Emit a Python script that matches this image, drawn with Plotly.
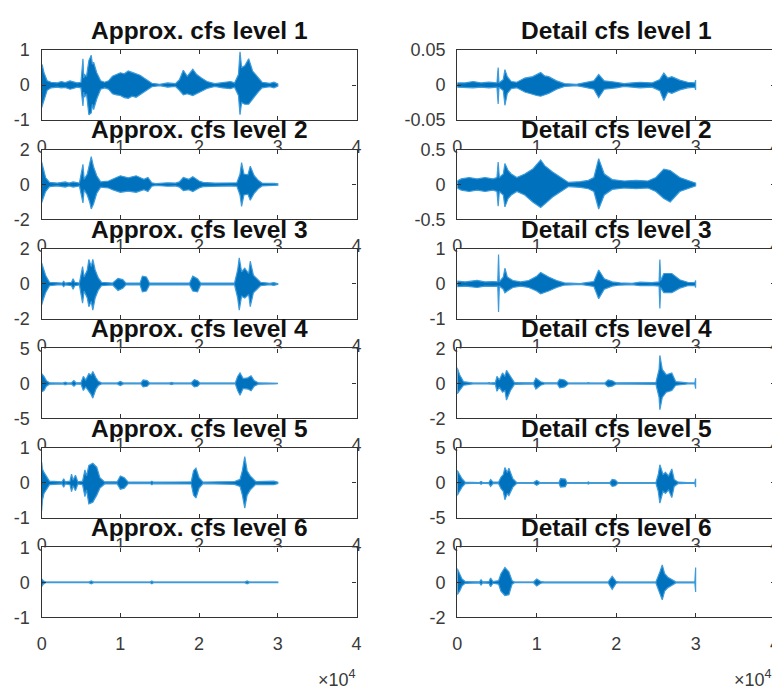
import plotly.graph_objects as go

W, H = 780, 700

# ---- data: envelope of each coefficient signal ----
# tuples: (sample position in units of 1e4, upper envelope, lower envelope)
A1 = [(0.000, 0.60, -0.65), (0.010, 0.55, -0.60), (0.030, 0.35, -0.45), (0.070, 0.12, -0.15),
      (0.120, 0.08, -0.08), (0.200, 0.06, -0.06), (0.250, 0.10, -0.08), (0.300, 0.07, -0.07),
      (0.360, 0.12, -0.12), (0.400, 0.10, -0.10), (0.450, 0.06, -0.06), (0.500, 0.08, -0.08),
      (0.525, 0.75, -0.60), (0.535, 0.20, -0.20), (0.545, 0.30, -0.35), (0.570, 0.25, -0.25),
      (0.600, 0.70, -0.85), (0.630, 0.85, -0.80), (0.645, 0.60, -0.55), (0.660, 0.65, -0.70),
      (0.700, 0.35, -0.40), (0.750, 0.12, -0.12), (0.800, 0.08, -0.08), (0.850, 0.12, -0.12),
      (0.900, 0.25, -0.25), (0.950, 0.30, -0.28), (1.000, 0.35, -0.30), (1.050, 0.32, -0.36),
      (1.100, 0.40, -0.38), (1.150, 0.36, -0.32), (1.200, 0.32, -0.35), (1.250, 0.28, -0.26),
      (1.300, 0.20, -0.20), (1.350, 0.12, -0.12), (1.400, 0.05, -0.05), (1.500, 0.02, -0.02),
      (1.600, 0.06, -0.06), (1.700, 0.04, -0.04), (1.750, 0.15, -0.15), (1.800, 0.42, -0.28),
      (1.850, 0.25, -0.25), (1.920, 0.45, -0.30), (1.970, 0.30, -0.25), (2.030, 0.20, -0.18),
      (2.100, 0.10, -0.10), (2.200, 0.04, -0.04), (2.300, 0.08, -0.08), (2.400, 0.10, -0.10),
      (2.450, 0.06, -0.06), (2.500, 0.30, -0.30), (2.520, 0.95, -0.85), (2.540, 0.50, -0.50),
      (2.580, 0.55, -0.55), (2.630, 0.75, -0.55), (2.680, 0.40, -0.40), (2.750, 0.20, -0.20),
      (2.800, 0.08, -0.08), (2.900, 0.05, -0.05), (2.950, 0.08, -0.08), (3.000, 0.03, -0.03)]

A2 = [(0.000, 1.30, -1.05), (0.020, 0.90, -0.80), (0.050, 0.40, -0.40), (0.100, 0.12, -0.12),
      (0.200, 0.08, -0.08), (0.300, 0.15, -0.15), (0.350, 0.08, -0.08), (0.400, 0.15, -0.15),
      (0.480, 0.08, -0.08), (0.525, 1.15, -1.05), (0.540, 0.30, -0.30), (0.580, 0.60, -0.60),
      (0.610, 1.20, -1.00), (0.630, 1.60, -1.40), (0.660, 1.00, -1.10), (0.700, 0.50, -0.50),
      (0.750, 0.15, -0.15), (0.850, 0.20, -0.20), (0.900, 0.30, -0.30), (1.000, 0.50, -0.45),
      (1.100, 0.38, -0.38), (1.200, 0.50, -0.45), (1.300, 0.30, -0.30), (1.350, 0.40, -0.40),
      (1.400, 0.10, -0.10), (1.450, 0.05, -0.05), (1.600, 0.10, -0.10), (1.700, 0.08, -0.08),
      (1.750, 0.15, -0.15), (1.800, 0.40, -0.35), (1.870, 0.30, -0.30), (1.920, 0.45, -0.40),
      (2.000, 0.20, -0.20), (2.050, 0.12, -0.12), (2.200, 0.08, -0.08), (2.300, 0.10, -0.10),
      (2.400, 0.08, -0.08), (2.480, 0.10, -0.10), (2.520, 0.60, -0.60), (2.540, 1.25, -1.25),
      (2.570, 0.60, -0.60), (2.620, 0.55, -0.55), (2.650, 1.05, -0.90), (2.700, 0.50, -0.50),
      (2.750, 0.25, -0.25), (2.800, 0.08, -0.08), (2.950, 0.06, -0.06), (3.000, 0.04, -0.04)]

A3 = [(0.000, 1.20, -1.20), (0.020, 0.90, -0.90), (0.050, 0.50, -0.50), (0.100, 0.10, -0.10),
      (0.200, 0.05, -0.05), (0.260, 0.05, -0.05), (0.280, 0.15, -0.15), (0.300, 0.05, -0.05),
      (0.380, 0.10, -0.10), (0.400, 0.30, -0.30), (0.420, 0.10, -0.10), (0.480, 0.05, -0.05),
      (0.520, 1.00, -1.10), (0.540, 0.40, -0.40), (0.580, 0.80, -0.80), (0.600, 1.40, -1.30),
      (0.630, 1.00, -1.00), (0.650, 1.40, -1.50), (0.680, 0.80, -0.80), (0.720, 0.35, -0.35),
      (0.760, 0.10, -0.10), (0.900, 0.05, -0.05), (0.970, 0.32, -0.37), (1.030, 0.25, -0.25),
      (1.070, 0.05, -0.05), (1.250, 0.05, -0.05), (1.280, 0.45, -0.45), (1.330, 0.40, -0.40),
      (1.370, 0.05, -0.05), (1.600, 0.04, -0.04), (1.650, 0.08, -0.08), (1.700, 0.04, -0.04),
      (1.880, 0.05, -0.05), (1.920, 0.45, -0.40), (1.980, 0.30, -0.45), (2.020, 0.05, -0.05),
      (2.450, 0.05, -0.05), (2.490, 0.80, -0.80), (2.510, 1.50, -1.50), (2.540, 0.70, -0.70),
      (2.580, 0.90, -0.80), (2.630, 0.60, -0.60), (2.650, 1.30, -1.30), (2.690, 0.50, -0.50),
      (2.730, 0.30, -0.30), (2.780, 0.10, -0.10), (2.900, 0.04, -0.04), (2.950, 0.08, -0.08),
      (3.000, 0.02, -0.02)]

A4 = [(0.000, 1.40, -1.20), (0.030, 1.00, -1.00), (0.060, 0.40, -0.40), (0.100, 0.10, -0.10),
      (0.270, 0.06, -0.06), (0.300, 0.20, -0.20), (0.330, 0.06, -0.06), (0.380, 0.10, -0.10),
      (0.410, 0.40, -0.40), (0.440, 0.08, -0.08), (0.500, 0.10, -0.10), (0.530, 1.00, -1.00),
      (0.560, 0.50, -0.50), (0.600, 1.40, -1.20), (0.630, 1.20, -1.60), (0.650, 1.70, -2.10),
      (0.690, 0.80, -0.80), (0.720, 0.30, -0.30), (0.760, 0.08, -0.08), (0.960, 0.06, -0.06),
      (1.000, 0.30, -0.30), (1.040, 0.06, -0.06), (1.260, 0.06, -0.06), (1.290, 0.50, -0.50),
      (1.340, 0.40, -0.40), (1.370, 0.06, -0.06), (1.620, 0.05, -0.05), (1.650, 0.15, -0.15),
      (1.680, 0.05, -0.05), (1.900, 0.06, -0.06), (1.940, 0.55, -0.50), (1.980, 0.40, -0.40),
      (2.010, 0.06, -0.06), (2.460, 0.06, -0.06), (2.490, 1.00, -1.00), (2.520, 1.50, -1.70),
      (2.560, 0.70, -0.70), (2.620, 0.80, -0.80), (2.660, 1.10, -1.05), (2.700, 0.40, -0.40),
      (2.750, 0.10, -0.10), (2.950, 0.05, -0.05), (3.000, 0.03, -0.03)]

A5 = [(0.000, 0.60, -0.80), (0.010, 0.40, -0.50), (0.030, 0.30, -0.30), (0.060, 0.20, -0.20),
      (0.100, 0.05, -0.05), (0.260, 0.03, -0.03), (0.280, 0.12, -0.12), (0.300, 0.03, -0.03),
      (0.360, 0.05, -0.05), (0.380, 0.25, -0.25), (0.400, 0.08, -0.08), (0.430, 0.22, -0.22),
      (0.460, 0.03, -0.03), (0.520, 0.05, -0.05), (0.550, 0.37, -0.39), (0.570, 0.20, -0.20),
      (0.600, 0.50, -0.60), (0.650, 0.56, -0.55), (0.700, 0.45, -0.35), (0.740, 0.15, -0.15),
      (0.800, 0.03, -0.03), (0.960, 0.03, -0.03), (1.000, 0.20, -0.18), (1.050, 0.15, -0.15),
      (1.100, 0.02, -0.02), (1.380, 0.02, -0.02), (1.400, 0.05, -0.05), (1.420, 0.02, -0.02),
      (1.680, 0.02, -0.02), (1.700, 0.03, -0.03), (1.900, 0.03, -0.03), (1.930, 0.35, -0.35),
      (1.960, 0.42, -0.43), (2.000, 0.15, -0.15), (2.050, 0.02, -0.02), (2.450, 0.04, -0.04),
      (2.520, 0.10, -0.10), (2.550, 0.35, -0.35), (2.580, 0.75, -0.72), (2.610, 0.35, -0.35),
      (2.650, 0.20, -0.20), (2.720, 0.04, -0.04), (2.950, 0.05, -0.05), (3.000, 0.02, -0.02)]

A6 = [(0.000, 0.10, -0.12), (0.020, 0.05, -0.05), (0.050, 0.01, -0.01), (0.600, 0.01, -0.01),
      (0.630, 0.04, -0.04), (0.660, 0.01, -0.01), (1.380, 0.01, -0.01), (1.400, 0.04, -0.04),
      (1.420, 0.01, -0.01), (2.580, 0.01, -0.01), (2.610, 0.04, -0.04), (2.640, 0.01, -0.01),
      (3.000, 0.01, -0.01)]

D1 = [(0.000, 0.003, -0.003), (0.100, 0.003, -0.003), (0.200, 0.005, -0.004), (0.300, 0.003, -0.003),
      (0.400, 0.004, -0.004), (0.500, 0.003, -0.003), (0.515, 0.025, -0.027), (0.525, 0.003, -0.003),
      (0.580, 0.008, -0.008), (0.600, 0.022, -0.029), (0.630, 0.012, -0.012), (0.680, 0.005, -0.005),
      (0.750, 0.004, -0.004), (0.850, 0.010, -0.010), (0.950, 0.012, -0.013), (1.000, 0.015, -0.015),
      (1.050, 0.018, -0.016), (1.100, 0.013, -0.014), (1.150, 0.012, -0.012), (1.250, 0.006, -0.006),
      (1.350, 0.002, -0.002), (1.500, 0.001, -0.001), (1.600, 0.003, -0.003), (1.720, 0.006, -0.006),
      (1.780, 0.015, -0.018), (1.850, 0.006, -0.006), (2.000, 0.004, -0.004), (2.100, 0.002, -0.002),
      (2.200, 0.003, -0.003), (2.300, 0.004, -0.004), (2.450, 0.003, -0.003), (2.550, 0.008, -0.008),
      (2.600, 0.017, -0.022), (2.650, 0.010, -0.010), (2.700, 0.012, -0.012), (2.800, 0.007, -0.007),
      (2.900, 0.004, -0.004), (2.990, 0.003, -0.003), (3.000, 0.007, -0.007)]

D2 = [(0.000, 0.05, -0.05), (0.050, 0.08, -0.08), (0.150, 0.10, -0.10), (0.250, 0.08, -0.08),
      (0.350, 0.10, -0.10), (0.450, 0.08, -0.08), (0.500, 0.10, -0.10), (0.515, 0.32, -0.31),
      (0.530, 0.10, -0.10), (0.580, 0.15, -0.15), (0.600, 0.30, -0.32), (0.640, 0.20, -0.20),
      (0.680, 0.15, -0.15), (0.750, 0.10, -0.10), (0.850, 0.15, -0.15), (0.950, 0.22, -0.25),
      (1.050, 0.35, -0.33), (1.100, 0.27, -0.28), (1.200, 0.18, -0.18), (1.300, 0.10, -0.10),
      (1.400, 0.03, -0.03), (1.550, 0.04, -0.04), (1.650, 0.06, -0.06), (1.720, 0.10, -0.10),
      (1.780, 0.37, -0.35), (1.850, 0.15, -0.15), (1.950, 0.07, -0.07), (2.100, 0.05, -0.05),
      (2.250, 0.06, -0.06), (2.400, 0.05, -0.05), (2.500, 0.10, -0.10), (2.600, 0.22, -0.20),
      (2.680, 0.20, -0.25), (2.800, 0.10, -0.10), (2.950, 0.04, -0.04), (3.000, 0.02, -0.02)]

D3 = [(0.000, 0.08, -0.08), (0.100, 0.06, -0.06), (0.250, 0.10, -0.10), (0.350, 0.06, -0.06),
      (0.450, 0.07, -0.07), (0.510, 0.06, -0.06), (0.520, 0.84, -0.80), (0.530, 0.06, -0.06),
      (0.580, 0.20, -0.15), (0.600, 0.45, -0.25), (0.630, 0.20, -0.20), (0.700, 0.10, -0.10),
      (0.800, 0.06, -0.06), (0.900, 0.10, -0.10), (1.000, 0.22, -0.20), (1.050, 0.33, -0.28),
      (1.150, 0.20, -0.20), (1.250, 0.10, -0.10), (1.350, 0.03, -0.03), (1.550, 0.01, -0.01),
      (1.600, 0.03, -0.03), (1.720, 0.07, -0.07), (1.780, 0.40, -0.42), (1.850, 0.15, -0.15),
      (1.950, 0.06, -0.06), (2.050, 0.03, -0.03), (2.200, 0.02, -0.02), (2.300, 0.05, -0.05),
      (2.450, 0.04, -0.04), (2.540, 0.06, -0.06), (2.550, 0.70, -0.70), (2.560, 0.10, -0.10),
      (2.600, 0.30, -0.25), (2.700, 0.30, -0.25), (2.800, 0.12, -0.12), (2.900, 0.05, -0.05),
      (2.990, 0.04, -0.04), (3.000, 0.10, -0.10)]

D4 = [(0.000, 0.90, -0.60), (0.030, 0.50, -0.40), (0.080, 0.10, -0.10), (0.200, 0.02, -0.02),
      (0.380, 0.02, -0.02), (0.400, 0.05, -0.05), (0.420, 0.02, -0.02), (0.480, 0.05, -0.05),
      (0.500, 0.40, -0.45), (0.530, 0.20, -0.20), (0.570, 0.60, -0.50), (0.600, 0.40, -0.40),
      (0.620, 0.75, -0.95), (0.670, 0.40, -0.40), (0.720, 0.05, -0.05), (0.960, 0.03, -0.03),
      (0.990, 0.30, -0.32), (1.050, 0.10, -0.10), (1.100, 0.03, -0.03), (1.260, 0.03, -0.03),
      (1.290, 0.25, -0.25), (1.350, 0.20, -0.20), (1.400, 0.02, -0.02), (1.630, 0.02, -0.02),
      (1.650, 0.05, -0.05), (1.670, 0.02, -0.02), (1.860, 0.03, -0.03), (1.900, 0.20, -0.20),
      (1.950, 0.15, -0.15), (2.000, 0.03, -0.03), (2.500, 0.05, -0.05), (2.540, 0.80, -0.80),
      (2.550, 1.60, -1.50), (2.580, 0.80, -0.80), (2.630, 0.50, -0.50), (2.700, 0.60, -0.40),
      (2.750, 0.10, -0.10), (2.900, 0.03, -0.03), (2.990, 0.02, -0.02), (3.000, 0.30, -0.30)]

D5 = [(0.000, 1.80, -1.80), (0.030, 1.20, -1.20), (0.060, 0.60, -0.60), (0.100, 0.10, -0.10),
      (0.280, 0.05, -0.05), (0.300, 0.20, -0.20), (0.320, 0.05, -0.05), (0.400, 0.10, -0.10),
      (0.420, 0.50, -0.50), (0.450, 0.10, -0.10), (0.520, 0.10, -0.10), (0.550, 0.80, -0.80),
      (0.580, 1.20, -1.20), (0.600, 2.20, -2.40), (0.630, 1.50, -1.50), (0.650, 2.10, -1.80),
      (0.700, 0.60, -0.60), (0.750, 0.05, -0.05), (0.960, 0.05, -0.05), (1.000, 0.35, -0.35),
      (1.040, 0.05, -0.05), (1.280, 0.05, -0.05), (1.300, 0.60, -0.60), (1.360, 0.55, -0.55),
      (1.380, 0.05, -0.05), (1.630, 0.03, -0.03), (1.650, 0.15, -0.15), (1.670, 0.03, -0.03),
      (1.920, 0.05, -0.05), (1.950, 0.50, -0.50), (1.990, 0.40, -0.40), (2.020, 0.05, -0.05),
      (2.500, 0.05, -0.05), (2.530, 1.20, -1.20), (2.550, 2.60, -2.90), (2.590, 1.20, -1.20),
      (2.620, 1.50, -1.50), (2.660, 1.00, -1.00), (2.700, 2.00, -2.10), (2.730, 0.50, -0.50),
      (2.780, 0.10, -0.10), (2.900, 0.05, -0.05), (2.990, 0.03, -0.03), (3.000, 0.60, -0.60)]

D6 = [(0.000, 0.80, -0.70), (0.030, 0.50, -0.50), (0.060, 0.20, -0.20), (0.100, 0.05, -0.05),
      (0.280, 0.03, -0.03), (0.300, 0.15, -0.15), (0.320, 0.03, -0.03), (0.400, 0.05, -0.05),
      (0.420, 0.25, -0.25), (0.450, 0.05, -0.05), (0.520, 0.10, -0.10), (0.550, 0.50, -0.50),
      (0.600, 0.85, -0.75), (0.650, 0.60, -0.70), (0.690, 0.10, -0.10), (0.720, 0.02, -0.02),
      (0.960, 0.02, -0.02), (1.000, 0.20, -0.20), (1.050, 0.05, -0.05), (1.100, 0.02, -0.02),
      (1.900, 0.03, -0.03), (1.950, 0.35, -0.40), (2.000, 0.05, -0.05), (2.040, 0.02, -0.02),
      (2.500, 0.03, -0.03), (2.550, 0.60, -0.60), (2.580, 1.00, -1.00), (2.610, 0.50, -0.50),
      (2.650, 0.30, -0.30), (2.750, 0.03, -0.03), (2.990, 0.02, -0.02), (3.000, 0.85, -0.55)]

APPROX = [A1, A2, A3, A4, A5, A6]
DETAIL = [D1, D2, D3, D4, D5, D6]
APPROX_LIM = [1, 2, 2, 5, 1, 1]
DETAIL_LIM = [0.05, 0.5, 1, 2, 5, 2]
APPROX_YTXT = [["-1", "0", "1"], ["-2", "0", "2"], ["-2", "0", "2"],
               ["-5", "0", "5"], ["-1", "0", "1"], ["-1", "0", "1"]]
DETAIL_YTXT = [["-0.05", "0", "0.05"], ["-0.5", "0", "0.5"], ["-1", "0", "1"],
               ["-2", "0", "2"], ["-5", "0", "5"], ["-2", "0", "2"]]
X_TICKS = [0, 10000, 20000, 30000, 40000]
X_TICKTEXT = ["0", "1", "2", "3", "4"]
SIGNAL_END = 30000
TITLES_A = ["Approx. cfs level %d" % (i + 1) for i in range(6)]
TITLES_D = ["Detail cfs level %d" % (i + 1) for i in range(6)]

# ---- layout geometry (page pixels; the page body adds an 8 px offset) ----
OFF = 8
COL_X = [(37, 356), (458, 780)]
ROW_TOP0, ROW_PITCH, ROW_H = 41, 102.4, 72


def px_x(p):
    return (p - OFF) / W


def px_y(p):
    return 1 - (p - OFF) / H


FONT = "Liberation Sans"
AX_COL = "#333333"
TXT_COL = "#3a3a3a"
BLUE = "#0072BD"

fig = go.Figure()
layout = dict(
    width=W, height=H, margin=dict(l=0, r=0, t=0, b=0),
    paper_bgcolor="white", plot_bgcolor="white", showlegend=False,
    xaxis=dict(domain=[0, 1], visible=False, range=[0, 1]),
    yaxis=dict(domain=[0, 1], visible=False, range=[0, 1]),
)
# invisible full-page base subplot (lets later subplot backgrounds cover earlier tick labels)
fig.add_trace(go.Scatter(x=[None], y=[None], xaxis="x", yaxis="y", hoverinfo="skip"))

annotations = []
for r in range(6):
    top = ROW_TOP0 + r * ROW_PITCH
    bot = top + ROW_H
    for c in range(2):
        n = 2 + 2 * r + c
        data = APPROX[r] if c == 0 else DETAIL[r]
        lim = APPROX_LIM[r] if c == 0 else DETAIL_LIM[r]
        ytxt = APPROX_YTXT[r] if c == 0 else DETAIL_YTXT[r]
        title = TITLES_A[r] if c == 0 else TITLES_D[r]
        xs = [p[0] * 1e4 for p in data]
        up = [p[1] for p in data]
        lo = [p[2] for p in data]
        xa, ya = "x%d" % n, "y%d" % n
        fig.add_trace(go.Scatter(x=[0, SIGNAL_END], y=[0, 0], mode="lines",
                                 line=dict(color="#3b6a8e", width=1.2),
                                 xaxis=xa, yaxis=ya, hoverinfo="skip"))
        fig.add_trace(go.Scatter(x=xs + xs[::-1], y=up + lo[::-1], mode="lines",
                                 fill="toself", fillcolor=BLUE,
                                 line=dict(color="#3d9bdb", width=1.2),
                                 xaxis=xa, yaxis=ya, hoverinfo="skip"))
        x0, x1 = COL_X[c]
        axcommon = dict(showgrid=False, zeroline=False, showline=True, mirror="ticks",
                        linecolor=AX_COL, linewidth=1.3, ticks="inside", ticklen=4,
                        tickcolor=AX_COL, tickwidth=1,
                        tickfont=dict(family=FONT, size=18, color=TXT_COL))
        layout["xaxis%d" % n] = dict(domain=[px_x(x0), px_x(x1)], anchor=ya, range=[0, 40000],
                                     tickmode="array", tickvals=X_TICKS, ticktext=X_TICKTEXT,
                                     ticklabelstandoff=10, **axcommon)
        layout["yaxis%d" % n] = dict(domain=[px_y(bot), px_y(top)], anchor=xa,
                                     range=[-lim, lim], tickmode="array",
                                     tickvals=[-lim, 0, lim], ticktext=ytxt,
                                     ticklabelstandoff=7, **axcommon)
        annotations.append(dict(text="<b>%s</b>" % title, xref="paper", yref="paper",
                                x=(px_x(x0) + px_x(x1)) / 2, y=px_y(top - 20.5),
                                xanchor="center", yanchor="middle", showarrow=False,
                                font=dict(family=FONT, size=24.5, color="#111111")))

for xr in (357, 779):
    annotations.append(dict(text="\u00d710<sup>4</sup>", xref="paper", yref="paper",
                            x=px_x(xr), y=px_y(688), xanchor="right", yanchor="middle",
                            showarrow=False, font=dict(family=FONT, size=18, color=TXT_COL)))

layout["annotations"] = annotations
fig.update_layout(**layout)
fig.write_html("out.html", config={"displayModeBar": False})
